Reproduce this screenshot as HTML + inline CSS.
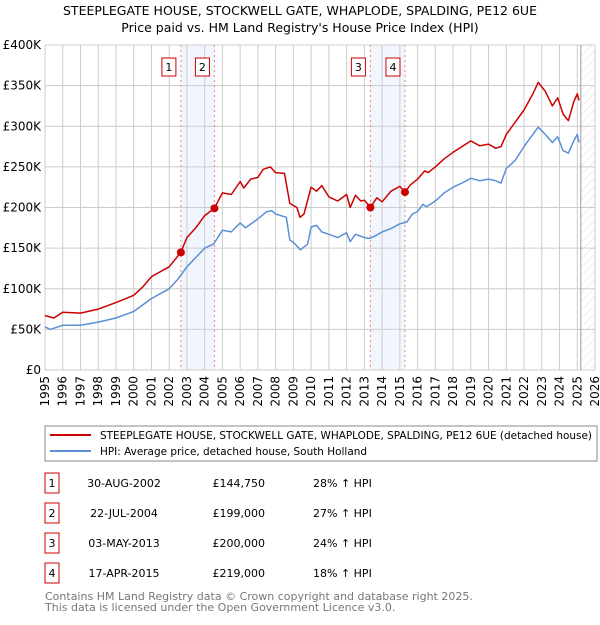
<!DOCTYPE html>
<html><head><meta charset="utf-8"><style>
body{margin:0;background:#fff;font-family:"Liberation Sans","DejaVu Sans",sans-serif;}
svg text{font-family:"DejaVu Sans","Liberation Sans",sans-serif;}
</style></head><body>
<svg id="chart" width="600" height="620" xmlns="http://www.w3.org/2000/svg">
<defs><pattern id="hatch" width="6" height="6" patternUnits="userSpaceOnUse" patternTransform="rotate(45)"><line x1="0" y1="0" x2="0" y2="6" stroke="#ddd" stroke-width="1"/></pattern></defs>
<text x="300" y="15" text-anchor="middle" font-size="12.5">STEEPLEGATE HOUSE, STOCKWELL GATE, WHAPLODE, SPALDING, PE12 6UE</text>
<text x="300" y="32" text-anchor="middle" font-size="12.5">Price paid vs. HM Land Registry's House Price Index (HPI)</text>
<g id="plot"></g>
<g>
<rect x="45" y="426" width="552" height="35" fill="#fff" stroke="#888"/>
<line x1="50" y1="435" x2="91" y2="435" stroke="#cc0000" stroke-width="2"/>
<text x="100" y="439" font-size="11" textLength="492" lengthAdjust="spacingAndGlyphs">STEEPLEGATE HOUSE, STOCKWELL GATE, WHAPLODE, SPALDING, PE12 6UE (detached house)</text>
<line x1="50" y1="451" x2="91" y2="451" stroke="#5b8fd4" stroke-width="2"/>
<text x="100" y="455" font-size="11" textLength="267" lengthAdjust="spacingAndGlyphs">HPI: Average price, detached house, South Holland</text>
</g>
<g id="table"></g>
<text x="45" y="600" font-size="11" fill="#777">Contains HM Land Registry data © Crown copyright and database right 2025.</text>
<text x="45" y="611" font-size="11" fill="#777">This data is licensed under the Open Government Licence v3.0.</text>
</svg>
<script>
const hpiYears=[1995,1995.3,1996,1997,1998,1999,2000,2001,2002,2002.5,2003,2004,2004.5,2005,2005.5,2006,2006.3,2007,2007.5,2007.8,2008,2008.6,2008.8,2009,2009.4,2009.8,2010,2010.3,2010.6,2011,2011.5,2012,2012.2,2012.5,2013,2013.3,2013.7,2014,2014.5,2015,2015.4,2015.7,2016,2016.3,2016.5,2017,2017.5,2018,2018.5,2019,2019.5,2020,2020.4,2020.7,2021,2021.5,2022,2022.5,2022.8,2023.2,2023.6,2023.9,2024.2,2024.5,2024.8,2025.0,2025.1];
const hpiValues=[53,50,55,55,59,64,72,88,100,112,127,150,155,172,170,181,175,186,195,196,192,188,160,157,148,155,176,178,170,167,163,169,158,167,163,162,166,170,174,180,182,192,195,204,201,208,218,225,230,236,233,235,233,230,248,258,275,290,299,290,280,287,270,267,282,290,280];
const redYears=[1995,1995.5,1996,1997,1998,1999,2000,2000.5,2001,2002,2002.66,2003,2003.5,2004,2004.55,2005,2005.5,2006,2006.2,2006.6,2007,2007.3,2007.7,2008,2008.5,2008.8,2009.2,2009.37,2009.6,2010,2010.3,2010.6,2011,2011.5,2012,2012.2,2012.5,2012.8,2013,2013.34,2013.7,2014,2014.5,2015,2015.29,2015.6,2016,2016.4,2016.6,2017,2017.5,2018,2018.5,2019,2019.5,2020,2020.4,2020.7,2021,2021.5,2022,2022.5,2022.8,2023.2,2023.6,2023.9,2024.2,2024.5,2024.8,2025.0,2025.1];
const redValues=[67,64,71,70,75,83,92,102,115,127,145,163,175,190,199,218,216,232,224,235,237,247,250,243,242,205,200,188,192,225,220,227,213,208,216,200,215,208,209,200,212,207,220,226,219,228,235,245,243,250,260,268,275,282,276,278,273,275,290,305,320,340,354,343,325,335,315,307,330,340,332];
const saleLabels=["1","2","3","4"];
const saleYears=[2002.66,2004.55,2013.34,2015.29];
const salePrices=[144.75,199,200,219];
const saleDates=["30-AUG-2002","22-JUL-2004","03-MAY-2013","17-APR-2015"];
const salePriceText=["£144,750","£199,000","£200,000","£219,000"];
const saleHpiText=["28% ↑ HPI","27% ↑ HPI","24% ↑ HPI","18% ↑ HPI"];
const yTicks=[0,50,100,150,200,250,300,350,400];
const yTickLabels=["£0","£50K","£100K","£150K","£200K","£250K","£300K","£350K","£400K"];
const xTicks=[1995,1996,1997,1998,1999,2000,2001,2002,2003,2004,2005,2006,2007,2008,2009,2010,2011,2012,2013,2014,2015,2016,2017,2018,2019,2020,2021,2022,2023,2024,2025,2026];

const X0=45,X1=595,Y0=370,Y1=45;
const xs=y=>X0+(y-1995)/(2026-1995)*(X1-X0);
const ys=v=>Y0-v/400*(Y0-Y1);
const NS="http://www.w3.org/2000/svg";
const plot=document.getElementById('plot');
function mk(tag,attrs,parent){const e=document.createElementNS(NS,tag);for(const k in attrs)e.setAttribute(k,attrs[k]);(parent||plot).appendChild(e);return e;}
for(let i=0;i<4;i+=2){
 const r=mk('rect',{x:xs(saleYears[i]),y:Y1,width:xs(saleYears[i+1])-xs(saleYears[i]),height:Y0-Y1,fill:'#f1f5fd'});
 
 
}
const hx=xs(2025.2);
const h=mk('rect',{x:hx,y:Y1,width:X1-hx,height:Y0-Y1,fill:'url(#hatch)'});


yTicks.forEach((t,i)=>{
 const l=mk('line',{x1:X0,x2:X1,y1:ys(t),y2:ys(t),stroke:'#ccc'});
 
 
 const tx=mk('text',{x:X0-4,y:ys(t)+4,'text-anchor':'end','font-size':'12'});
 tx.textContent=yTickLabels[i];
 
 
});
xTicks.forEach(t=>{
 const l=mk('line',{x1:xs(t),x2:xs(t),y1:Y1,y2:Y0,stroke:'#ccc'});
 
 
 const tx=mk('text',{x:0,y:0,'text-anchor':'end','font-size':'12',transform:`translate(${xs(t)+4},${Y0+6}) rotate(-90)`});
 tx.textContent=t;
 
 
});
const vl=mk('line',{x1:hx,x2:hx,y1:Y1,y2:Y0,stroke:'#999','stroke-width':1});


saleYears.forEach((y,i)=>{
 const l=mk('line',{x1:xs(y),x2:xs(y),y1:Y1,y2:Y0,stroke:'#f08080','stroke-dasharray':'2,3'});
 
 
 const b=mk('rect',{x:xs(y)-19,y:58,width:14,height:18,fill:'#fff',stroke:'#cc0000'});
 
 
 const t=mk('text',{x:xs(y)-12,y:71,'text-anchor':'middle','font-size':'11'});
 t.textContent=saleLabels[i];
 
 
});
function line(xa,va,color,name){
 const d=xa.map((y,i)=>(i?'L':'M')+xs(y).toFixed(1)+','+ys(va[i]).toFixed(1)).join('');
 const p=mk('path',{d:d,fill:'none',stroke:color,'stroke-width':1.5,'stroke-linejoin':'round'});
 
 
}
line(hpiYears,hpiValues,'#5b8fd4','hpi-line');
line(redYears,redValues,'#cc0000','property-price-line');
saleYears.forEach((y,i)=>{
 const c=mk('circle',{cx:xs(y),cy:ys(salePrices[i]),r:4,fill:'#cc0000'});
 
 
});
const tb=document.getElementById('table');
const rowsY=[483,513,543,573];
saleLabels.forEach((l,i)=>{
 const y=rowsY[i];
 const b=mk('rect',{x:45,y:y-10,width:14,height:20,fill:'#fff',stroke:'#cc0000'},tb);
 
 
 const t=mk('text',{x:52,y:y+4,'text-anchor':'middle','font-size':'11'},tb);t.textContent=l;
 
 
 const d=mk('text',{x:124,y:y+4,'text-anchor':'middle','font-size':'11'},tb);d.textContent=saleDates[i];
 
 
 const p=mk('text',{x:265,y:y+4,'text-anchor':'end','font-size':'11'},tb);p.textContent=salePriceText[i];
 
 
 const hp=mk('text',{x:313,y:y+4,'font-size':'11'},tb);hp.textContent=saleHpiText[i];
 
 
});
</script>
</body></html>
